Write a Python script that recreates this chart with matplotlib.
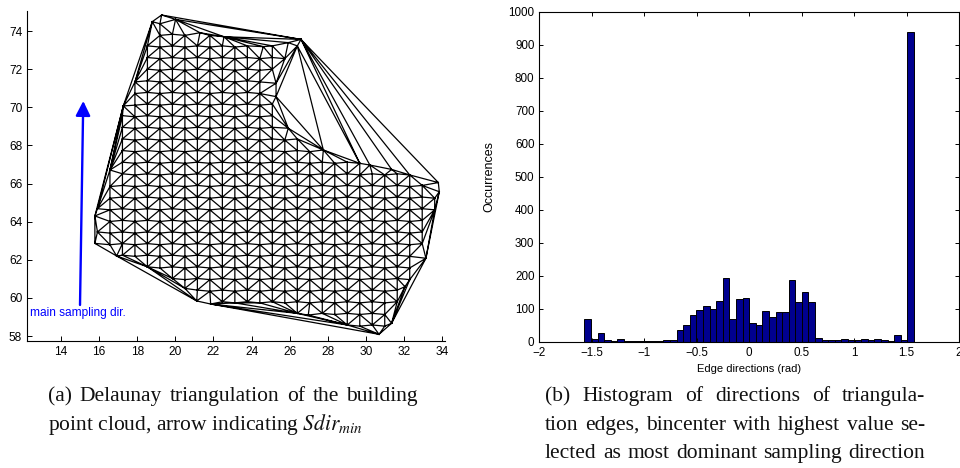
import numpy as np
import matplotlib
matplotlib.use('Agg')
import matplotlib.pyplot as plt
import matplotlib.tri as mtri
from matplotlib.path import Path
from matplotlib.ticker import FuncFormatter

# outline of the building point cloud (x, y in m)
outline_x = [18.79, 19.28, 20.01, 21.29, 22.55, 24.61, 25.92, 26.59, 25.28, 25.28,
             25.92, 27.76, 30.20, 31.34, 33.79, 33.84, 33.14, 32.04, 31.34, 30.68,
             26.97, 21.85, 21.12, 20.50, 16.92, 15.78, 15.78, 16.57, 17.27]
outline_y = [74.49, 74.84, 74.61, 73.91, 73.70, 73.18, 73.39, 73.56, 71.26, 70.56,
             68.90, 67.76, 66.97, 66.74, 66.05, 65.57, 62.08, 60.59, 58.67, 58.09,
             59.10, 59.68, 59.84, 60.50, 62.20, 62.86, 64.30, 66.71, 70.07]

# scan pattern of the cloud: column / row spacing and a reference grid node
scan_dx = 0.655
scan_dy = 0.61
scan_x0 = 21.81
scan_y0 = 68.28
col_offset = 0.06

arrow_start = (15.00, 59.63)
arrow_end = (15.17, 70.33)

# edge direction histogram, 50 bins over [-pi/2, pi/2]
n_bins = 50
counts = [70, 8, 27, 5, 1, 9, 3, 3, 1, 1,
          3, 1, 6, 6, 35, 50, 80, 96, 108, 99,
          122, 193, 68, 128, 131, 56, 50, 93, 76, 90,
          90, 187, 121, 152, 121, 11, 5, 5, 5, 8,
          5, 5, 8, 5, 8, 6, 3, 19, 6, 937]

caption_a = ["(a)  Delaunay triangulation of the building",
             r"point cloud, arrow indicating $Sdir_{min}$"]
caption_b = ["(b)  Histogram of directions of triangula-",
             "tion edges, bincenter with highest value se-",
             "lected as most dominant sampling direction"]

plt.rcParams['font.family'] = ['Liberation Sans', 'DejaVu Sans']
plt.rcParams['mathtext.fontset'] = 'stix'

fig = plt.figure(figsize=(9.6, 4.68), dpi=100)
W, H = 960.0, 468.0


def px_axes(l, t, r, b):
    return fig.add_axes([l / W, 1 - b / H, (r - l) / W, (b - t) / H])


# ---- left: Delaunay triangulation ----
ax1 = px_axes(27, 11, 445, 341)

ox = np.array(outline_x)
oy = np.array(outline_y)
poly = Path(np.column_stack([ox, oy]))
cols = np.arange(-12, 20)
rows = np.arange(-18, 12)
gx, gy = np.meshgrid(scan_x0 + cols * scan_dx, scan_y0 + rows * scan_dy)
gy = gy + col_offset * (np.abs(cols) % 2)[None, :]
grid = np.column_stack([gx.ravel(), gy.ravel()])
grid = grid[poly.contains_points(grid)]
# drop grid nodes sitting right on top of an outline point
d = np.hypot(grid[:, 0][:, None] - ox[None, :], grid[:, 1][:, None] - oy[None, :])
grid = grid[d.min(axis=1) > 0.3]
px = np.concatenate([grid[:, 0], ox])
py = np.concatenate([grid[:, 1], oy])

tri = mtri.Triangulation(px, py)
ax1.triplot(tri, color='black', lw=0.9)

ax1.annotate('', xy=arrow_end, xytext=arrow_start,
             arrowprops=dict(arrowstyle='-|>', color='#0000ff', lw=1.7,
                             mutation_scale=22, shrinkA=0, shrinkB=0))
ax1.text(12.37, 59.19, 'main sampling dir.', color='#0000ff', fontsize=8.6,
         va='center', ha='left')

ax1.set_xlim(12.22, 34.14)
ax1.set_ylim(57.74, 75.05)
ax1.set_xticks(np.arange(14, 35, 2))
ax1.set_yticks(np.arange(58, 75, 2))
for s in ['top', 'right']:
    ax1.spines[s].set_visible(False)
ax1.tick_params(direction='in', length=3.5, labelsize=8.6, width=0.7)

# ---- right: histogram ----
ax2 = px_axes(539.3, 11.7, 959, 341.7)
edges = np.linspace(-np.pi / 2, np.pi / 2, n_bins + 1)
centers = 0.5 * (edges[:-1] + edges[1:])
ax2.bar(centers, counts, width=edges[1] - edges[0], color=(0, 0, 0.5625),
        edgecolor='black', lw=0.7)
ax2.set_xlim(-2, 2)
ax2.set_ylim(0, 1000)
ax2.set_xticks(np.arange(-2, 2.01, 0.5))
ax2.set_yticks(np.arange(0, 1001, 100))
ax2.xaxis.set_major_formatter(FuncFormatter(lambda v, p: ('%g' % v).replace('-', '\u2212')))
ax2.tick_params(direction='in', length=3, labelsize=8.4, width=0.7,
                top=True, right=True)
ax2.set_ylabel('Occurrences', fontsize=9)
ax2.yaxis.set_label_coords(-0.105, 0.5)
ax2.set_xlabel('Edge directions (rad)', fontsize=8)
ax2.xaxis.set_label_coords(0.5, -0.068)

# ---- captions ----
renderer = fig.canvas.get_renderer()
cap_kw = dict(fontsize=15.5, family=['Liberation Serif', 'DejaVu Serif'],
              va='baseline', ha='left', color='#111111')


def justify(line, x0, x1, y):
    words = line.split()
    texts = [fig.text(0, 1 - y / H, w, **cap_kw) for w in words]
    widths = [t.get_window_extent(renderer).width for t in texts]
    gap = (x1 - x0 - sum(widths)) / (len(words) - 1)
    x = x0
    for t, w in zip(texts, widths):
        t.set_x(x / W)
        x += w + gap


justify(caption_a[0], 48, 418, 401)
fig.text(48 / W, 1 - 430 / H, caption_a[1], **cap_kw)
justify(caption_b[0], 545, 925, 401)
justify(caption_b[1], 545, 925, 430)
justify(caption_b[2], 545, 925, 458)

fig.savefig('out.png', dpi=100)
